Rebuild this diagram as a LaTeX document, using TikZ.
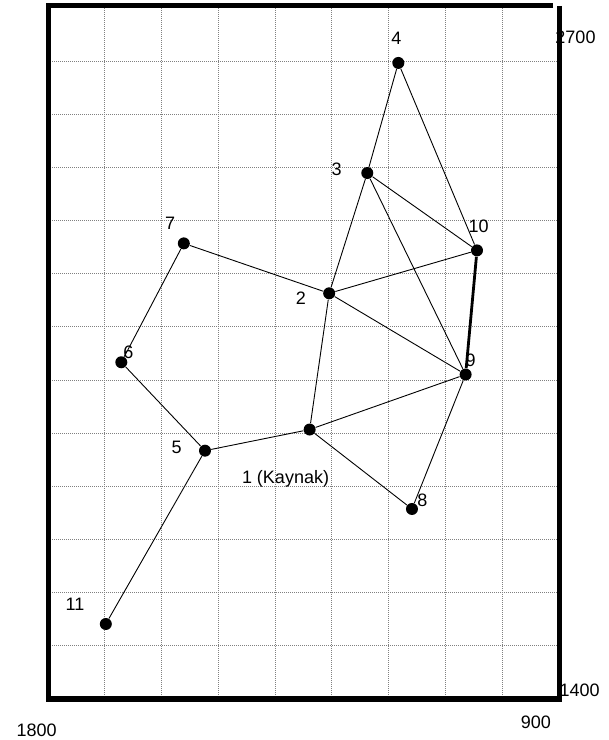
\documentclass[tikz,border=0pt]{standalone}
\usepackage{fontspec}
\setmainfont{Liberation Sans}
\usetikzlibrary{positioning}
\definecolor{gridgrey}{HTML}{808080}

\begin{document}
\begin{tikzpicture}[x=28.39pt, y=26.575pt,
    every node/.style={font=\fontsize{9}{10}\selectfont, inner sep=0pt},
    point/.style={circle, fill=black, minimum size=6pt},
    pipe/.style={draw=black, line width=0.45pt},
    mainpipe/.style={draw=black, line width=1.4pt},
    frame/.style={draw=black, line width=2.5pt},
    gridline/.style={draw=gridgrey, line width=0.5pt, dash pattern=on 0.5pt off 0.5pt}]
    \useasboundingbox (-0.8454,-0.7714) rectangle (9.8626,13.151);

    % grid, one cell = 100 units
    \foreach \i in {1,...,8} \draw[gridline] (\i,0) -- (\i,13.04);
    \foreach \j in {1,...,12} \draw[gridline] (0,\j) -- (9,\j);

    % frame
    \draw[frame] (8.894,13.04) -- (0,13.04) -- (0,0) -- (9,0);
    \draw[frame] (9,13.04) -- (9,-0.05);

    % axis values
    \node (ytop) at (9.290,12.455) {2700};
    \node (ybot) at (9.361,0.169) {1400};
    \node (xright) at (8.594,-0.433) {900};
    \node (xleft) at (-0.199,-0.583) {1800};

    % points
    \node[point] (n1) at (4.608,5.070) {};
    \node[point] (n2) at (4.952,7.633) {};
    \node[point] (n3) at (5.623,9.896) {};
    \node[point] (n4) at (6.170,11.967) {};
    \node[point] (n5) at (2.765,4.672) {};
    \node[point] (n6) at (1.291,6.335) {};
    \node[point] (n7) at (2.392,8.572) {};
    \node[point] (n8) at (6.410,3.575) {};
    \node[point] (n9) at (7.355,6.105) {};
    \node[point] (n10) at (7.555,8.440) {};
    \node[point] (n11) at (1.018,1.411) {};

    % point names
    \node (l1) at (4.183,4.134) {1 (Kaynak)};
    \node (l2) at (4.452,7.539) {2};
    \node (l3) at (5.083,9.972) {3};
    \node (l4) at (6.134,12.431) {4};
    \node (l5) at (2.267,4.736) {5};
    \node (l6) at (1.414,6.515) {6};
    \node (l7) at (2.149,8.950) {7};
    \node (l8) at (6.592,3.744) {8};
    \node (l9) at (7.444,6.378) {9};
    \node (l10) at (7.582,8.899) {10};
    \node (l11) at (0.477,1.782) {11};

    % connections
    \draw[pipe] (n4) -- (n3);
    \draw[pipe] (n4) -- (n10);
    \draw[pipe] (n3) -- (n10);
    \draw[pipe] (n3) -- (n2);
    \draw[pipe] (n3) -- (n9);
    \draw[pipe] (n7) -- (n2);
    \draw[pipe] (n2) -- (n10);
    \draw[pipe] (n2) -- (n9);
    \draw[pipe] (n2) -- (n1);
    \draw[mainpipe] (n10) -- (n9);
    \draw[pipe] (n7) -- (n6);
    \draw[pipe] (n6) -- (n5);
    \draw[pipe] (n5) -- (n1);
    \draw[pipe] (n1) -- (n9);
    \draw[pipe] (n1) -- (n8);
    \draw[pipe] (n8) -- (n9);
    \draw[pipe] (n5) -- (n11);
\end{tikzpicture}
\end{document}
